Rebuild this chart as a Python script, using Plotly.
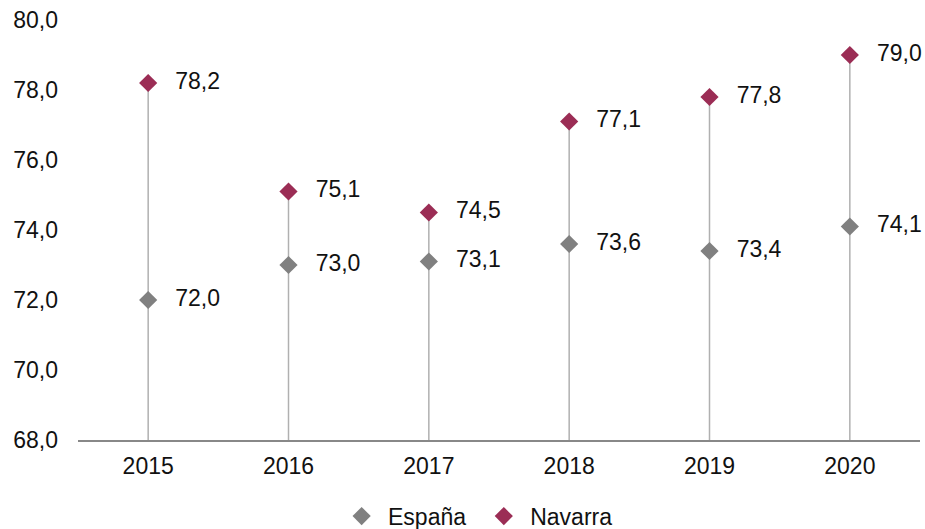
import plotly.graph_objects as go

years = ["2015", "2016", "2017", "2018", "2019", "2020"]
espana = [72.0, 73.0, 73.1, 73.6, 73.4, 74.1]
navarra = [78.2, 75.1, 74.5, 77.1, 77.8, 79.0]
y_ticks = [68, 70, 72, 74, 76, 78, 80]

def fmt(v):
    return "  \u2009" + f"{v:.1f}".replace(".", ",")

base = y_ticks[0]
lx, ly = [], []
for yr, v in zip(years, navarra):
    lx += [yr, yr, None]
    ly += [base, v, None]

FS = 23
fig = go.Figure()
fig.add_trace(go.Scatter(x=lx, y=ly, mode="lines", line=dict(color="#b0b0b0", width=1.5),
                         showlegend=False, hoverinfo="skip"))
fig.add_trace(go.Scatter(x=years, y=espana, mode="markers+text", name=" España  ",
                         marker=dict(symbol="diamond", size=14, color="#808080"),
                         text=[fmt(v) for v in espana], textposition="middle right",
                         textfont=dict(size=FS, color="#111111"), cliponaxis=False))
fig.add_trace(go.Scatter(x=years, y=navarra, mode="markers+text", name=" Navarra",
                         marker=dict(symbol="diamond", size=14, color="#9b2d55"),
                         text=[fmt(v) for v in navarra], textposition="middle right",
                         textfont=dict(size=FS, color="#111111"), cliponaxis=False))

fig.update_layout(
    width=925, height=529,
    margin=dict(l=78, r=5, t=20, b=89, autoexpand=False),
    plot_bgcolor="white", paper_bgcolor="white",
    font=dict(family="Liberation Sans, Arial, sans-serif", size=FS, color="#111111"),
    legend=dict(orientation="h", x=0.477, xanchor="center", y=-0.13, yanchor="top",
                font=dict(size=FS), itemwidth=30),
    xaxis=dict(type="category", showgrid=False, showline=True, linecolor="#888888", linewidth=2,
               ticks="", tickfont=dict(size=FS), range=[-0.5, 5.5], automargin=False,
               ticklabelstandoff=4),
    yaxis=dict(range=[68, 80], tickvals=y_ticks, ticktext=[f"{v:.1f}".replace(".", ",") for v in y_ticks],
               showgrid=False, zeroline=False, showline=False, ticks="", tickfont=dict(size=FS),
               ticklabelstandoff=19, automargin=False),
)

fig.write_html("out.html", config={"displayModeBar": False},
               post_script="document.body.style.margin='0px';")
